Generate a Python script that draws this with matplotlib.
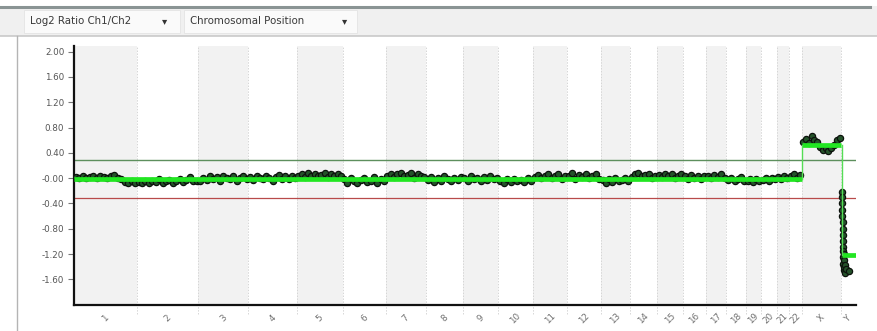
import numpy as np
import matplotlib
matplotlib.use("Agg")
import matplotlib.pyplot as plt
from matplotlib.patches import Rectangle
from matplotlib.lines import Line2D

# ---------------- data ----------------
chrom_names = [str(i) for i in range(1, 23)] + ["X", "Y"]
chrom_len_mb = [249, 243, 198, 191, 181, 171, 159, 146, 141, 136, 135, 134,
                115, 107, 103, 90, 81, 78, 59, 63, 48, 51, 155, 59]

log2_values = {
    "1": [0.02, 0.01, 0.03, 0.0, 0.02, 0.04, 0.01, 0.03, 0.02, 0.0, 0.03, 0.05, 0.01, -0.02, -0.06, -0.08, -0.05, -0.07],
    "2": [-0.06, -0.08, -0.05, -0.07, -0.04, -0.06, -0.02, -0.07, -0.05, -0.03, -0.08, -0.04, -0.02, -0.06, -0.03, 0.02, -0.05, -0.04],
    "3": [-0.05, 0.01, -0.03, 0.03, -0.02, 0.02, -0.04, 0.04, 0.0, -0.02, 0.03, -0.04, 0.01, 0.03, -0.01],
    "4": [0.02, -0.03, 0.04, 0.0, -0.02, 0.03, 0.01, -0.04, 0.02, 0.05, -0.01, 0.03, -0.02, 0.04, 0.01],
    "5": [0.03, 0.06, 0.02, 0.08, 0.04, 0.07, 0.03, 0.05, 0.09, 0.02, 0.06, 0.04, 0.07, 0.03],
    "6": [-0.02, -0.07, 0.0, -0.05, -0.08, -0.03, 0.01, -0.06, -0.04, 0.02, -0.07, -0.02, -0.05],
    "7": [0.04, 0.07, 0.02, 0.06, 0.09, 0.03, 0.05, 0.08, 0.01, 0.06, 0.04, 0.02],
    "8": [-0.03, 0.02, -0.06, 0.01, -0.04, 0.03, -0.02, -0.05, 0.0, -0.03, 0.02],
    "9": [0.01, -0.04, 0.03, -0.02, 0.0, -0.05, 0.02, -0.03, 0.04, -0.01, 0.01],
    "10": [-0.04, -0.07, -0.02, -0.06, -0.01, -0.05, -0.03, -0.06, 0.0, -0.04],
    "11": [0.02, 0.05, 0.0, 0.04, 0.07, 0.01, 0.03, 0.06, -0.01, 0.04],
    "12": [0.03, 0.08, -0.01, 0.05, 0.02, 0.07, 0.0, 0.04, 0.06, -0.02],
    "13": [-0.03, -0.08, -0.02, -0.06, 0.0, -0.05, -0.03, 0.01, -0.04],
    "14": [0.02, 0.06, 0.08, 0.03, 0.05, 0.07, 0.01, 0.04],
    "15": [0.05, 0.02, 0.07, 0.03, 0.06, 0.0, 0.04, 0.06],
    "16": [0.03, -0.02, 0.05, 0.01, 0.04, -0.01, 0.03],
    "17": [0.04, 0.01, 0.05, 0.02, 0.06, 0.0],
    "18": [-0.03, 0.01, -0.05, -0.02, 0.02, -0.04],
    "19": [-0.05, -0.02, -0.06, -0.01, -0.04],
    "20": [-0.03, 0.0, -0.05, 0.01, -0.02],
    "21": [0.02, -0.02, 0.03, 0.0],
    "22": [0.03, 0.06, 0.01, 0.05],
    "X": [0.58, 0.62, 0.55, 0.66, 0.60, 0.57, 0.50, 0.45, 0.48, 0.43, 0.47, 0.52, 0.60, 0.64],
}
# chrY probes: offsets within chromosome (Mb) and values
y_offsets_mb = [4, 4, 5, 5, 5, 6, 6, 6, 7, 7, 8, 9, 9, 10, 11, 12, 13, 15, 17, 19, 33]
y_values = [-0.22, -0.30, -0.40, -0.50, -0.60, -0.70, -0.80, -0.90, -1.00, -1.08,
            -1.15, -1.25, -1.35, -1.30, -1.45, -1.40, -1.20, -1.50, -1.38, -1.44, -1.46]

# segment calls
seg_values = {c: -0.02 for c in chrom_names[:22]}
seg_values["X"] = 0.52
seg_values["Y"] = -1.21
y_seg_start_mb = 4

upper_thr = 0.28
lower_thr = -0.32

ytick_vals = [2.0, 1.6, 1.2, 0.8, 0.4, 0.0, -0.4, -0.8, -1.2, -1.6]
ytick_labels = ["2.00", "1.60", "1.20", "0.80", "0.40", "-0.00", "-0.40", "-0.80", "-1.20", "-1.60"]

menu_labels = ["Log2 Ratio Ch1/Ch2", "Chromosomal Position"]

# ---------------- figure ----------------
W, H = 877, 331
fig = plt.figure(figsize=(W / 100, H / 100), dpi=100)
fig.patch.set_facecolor("white")

def fx(px):
    return px / W

def fy(py):
    return 1 - py / H

# toolbar
fig.patches.append(Rectangle((0, fy(36)), 1, fy(6) - fy(36), transform=fig.transFigure,
                             facecolor="#f0f0f0", edgecolor="none", zorder=0))
fig.add_artist(Line2D([0, fx(870)], [fy(6.5), fy(6.5)], color="#8a9494", lw=2.2))
fig.add_artist(Line2D([0, 1], [fy(36), fy(36)], color="#c9c9c9", lw=1.2))
fig.add_artist(Line2D([fx(17), fx(17)], [0, fy(36)], color="#b4b4b4", lw=1.0))
boxes = [(24, 180), (184, 357)]
arrow_x = [165, 345]
for (x0, x1), ax_, lab in zip(boxes, arrow_x, menu_labels):
    fig.patches.append(Rectangle((fx(x0), fy(33)), fx(x1 - x0), fy(10) - fy(33),
                                 transform=fig.transFigure, facecolor="#fafafa",
                                 edgecolor="#e4e4e4", lw=0.6, zorder=1))
    fig.text(fx(x0 + 6), fy(21.5), lab, fontsize=7.4, color="#3a3a3a",
             family="DejaVu Sans", va="center", ha="left")
    fig.text(fx(ax_), fy(21.5), "\u25BE", fontsize=7.5, color="#333333",
             family="DejaVu Sans", va="center", ha="center")

# plot axes
ax = fig.add_axes([fx(74), fy(304.7), fx(856 - 74), fy(46) - fy(304.7)])
ax.set_facecolor("white")
total = sum(chrom_len_mb)
starts = np.concatenate([[0], np.cumsum(chrom_len_mb)[:-1]])
ends = starts + np.array(chrom_len_mb)
centers = (starts + ends) / 2
ymin, ymax = -2.0, 2.09
ax.set_xlim(0, total)
ax.set_ylim(ymin, ymax)

for i, (s, e) in enumerate(zip(starts, ends)):
    if i % 2 == 0:
        ax.axvspan(s, e, color="#f2f2f2", zorder=0, lw=0)
    if i < len(starts) - 1:
        ax.vlines(e, ymin - 0.15, ymax, colors="#d6d6d6", linestyles=(0, (1.5, 1.5)),
                  lw=0.7, zorder=0.5, clip_on=False)

ax.axhline(upper_thr, color="#5d8f5d", lw=1.0, zorder=2)
ax.axhline(lower_thr, color="#b84a4a", lw=0.9, zorder=2)

# probes
px, py = [], []
for i, name in enumerate(chrom_names[:23]):
    vals = log2_values[name]
    n = len(vals)
    pos = starts[i] + (np.arange(n) + 0.5) / n * chrom_len_mb[i]
    px.extend(pos)
    py.extend(vals)
ystart = starts[23]
px.extend(ystart + np.array(y_offsets_mb))
py.extend(y_values)
ax.scatter(px, py, s=20, facecolor="#24522a", edgecolor="#0c120c", lw=0.9, zorder=3)

# segments
auto_end = ends[21]
ax.plot([0, auto_end], [seg_values["1"], seg_values["22"]], color="#22e622", lw=3.4,
        zorder=4, solid_capstyle="butt")
xs, xe = starts[22], ends[22]
ax.plot([xs, xe], [seg_values["X"]] * 2, color="#22e622", lw=3.4, zorder=4,
        solid_capstyle="butt")
ys = starts[23] + y_seg_start_mb
ax.plot([ys, ends[23]], [seg_values["Y"]] * 2, color="#22e622", lw=3.4, zorder=4,
        solid_capstyle="butt")
ax.plot([xs, xs], [seg_values["22"], seg_values["X"]], color="#55dd55", lw=1.0, zorder=4)
ax.plot([ys, ys], [seg_values["X"], seg_values["Y"]], color="#55dd55", lw=1.0, zorder=4)

# axes styling
for sp in ["top", "right"]:
    ax.spines[sp].set_visible(False)
ax.spines["left"].set_linewidth(1.6)
ax.spines["bottom"].set_linewidth(1.6)
ax.spines["left"].set_color("#111111")
ax.spines["bottom"].set_color("#111111")
ax.set_yticks(ytick_vals)
ax.set_yticklabels(ytick_labels, fontsize=6.3, color="#555555")
ax.tick_params(axis="y", length=4, width=0.8, color="#777777", pad=3)
ax.set_xticks(centers)
ax.set_xticklabels(chrom_names, fontsize=6.3, color="#707070", rotation=45,
                   ha="center", va="center")
ax.tick_params(axis="x", length=0, pad=10)

fig.savefig("out.png", dpi=100)
